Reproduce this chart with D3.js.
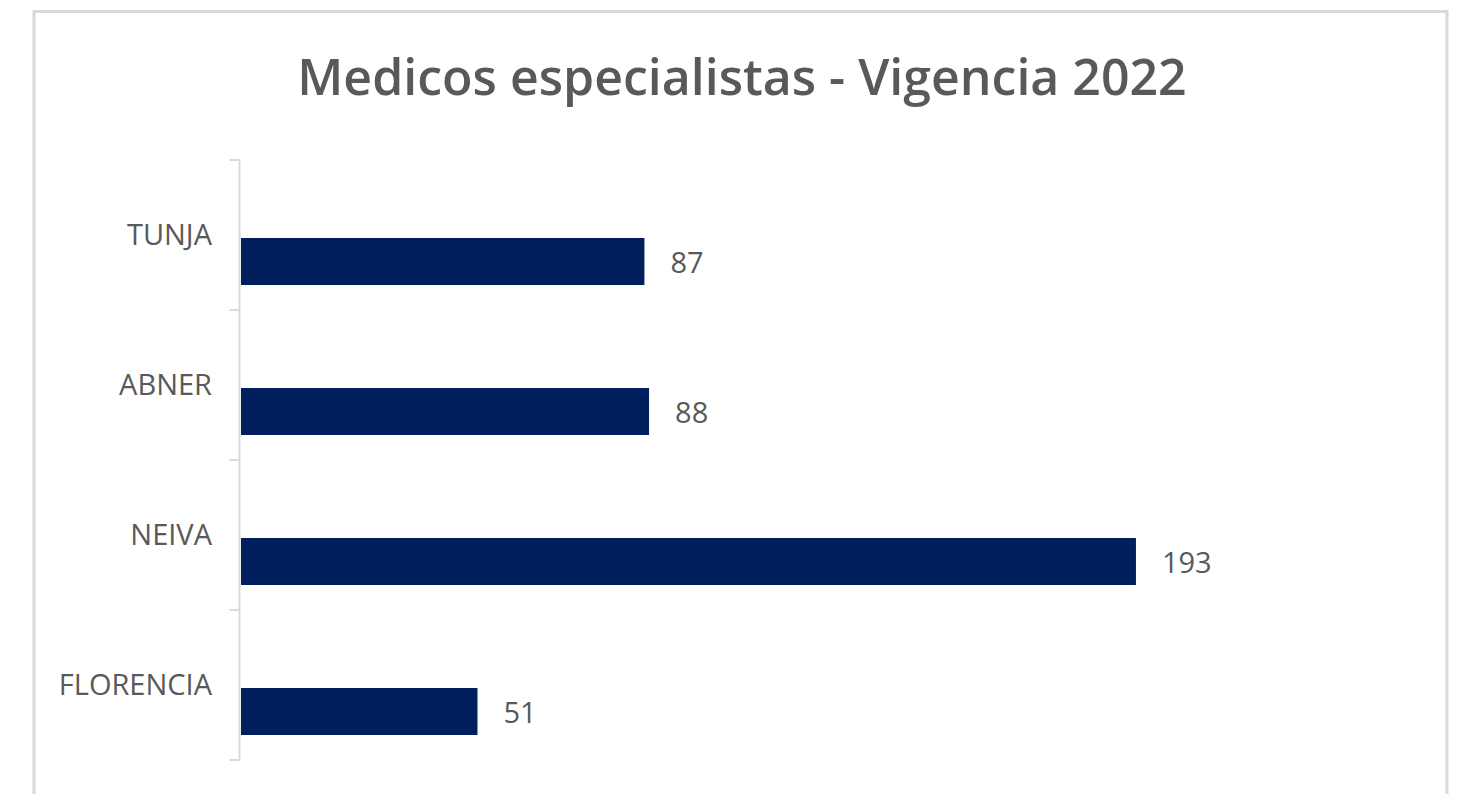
<!DOCTYPE html>
<html>
<head>
<meta charset="utf-8">
<script src="https://cdn.jsdelivr.net/npm/d3@7"></script>
<style>
  body { margin: 0; background: #fff; }
  svg { display: block; font-family: 'Open Sans', sans-serif; }
  .graph-title { font-size: 50px; font-weight: 600; fill: #595959; text-anchor: middle; }
  .cat-label { font-size: 29px; fill: #595959; text-anchor: end; }
  .value-label { font-size: 29px; fill: #595959; }
</style>
</head>
<body>
<svg id="bar-svg"></svg>
<script>
// Chart data
const categories = ['TUNJA', 'ABNER', 'NEIVA', 'FLORENCIA'];
const values = [87, 88, 193, 51];
const title = 'Medicos especialistas - Vigencia 2022';

const width = 1461;
const height = 794;

const svg = d3.select('#bar-svg')
  .attr('width', width)
  .attr('height', height);

// Chart frame
svg.append('rect')
  .attr('x', 34)
  .attr('y', 11.5)
  .attr('width', 1413)
  .attr('height', 800)
  .attr('fill', '#fff')
  .attr('stroke', '#d9d9d9')
  .attr('stroke-width', 3);

svg.append('text')
  .attr('class', 'graph-title')
  .attr('x', 742)
  .attr('y', 95)
  .text(title);

// Scales
const yScale = d3.scaleBand()
  .domain(categories)
  .range([160, 760]);

const xScale = d3.scaleLinear()
  .domain([0, 200])
  .range([241, 241 + 200 * 4.637]);

// Category axis
const axisG = svg.append('g')
  .attr('transform', 'translate(239.5,0)');

axisG.append('line')
  .attr('y1', yScale.range()[0])
  .attr('y2', yScale.range()[1])
  .attr('stroke', '#d9d9d9')
  .attr('stroke-width', 2);

const boundaries = categories.map((c) => yScale(c)).concat([yScale.range()[1]]);
axisG.selectAll('.tick')
  .data(boundaries)
  .enter()
  .append('line')
  .attr('x1', -10)
  .attr('x2', 0)
  .attr('y1', (d) => d)
  .attr('y2', (d) => d)
  .attr('stroke', '#d9d9d9')
  .attr('stroke-width', 2);

svg.selectAll('.cat-label')
  .data(categories)
  .enter()
  .append('text')
  .attr('class', 'cat-label')
  .attr('x', 212)
  .attr('y', (d) => yScale(d) + yScale.bandwidth() / 2 + 10)
  .text((d) => d);

// Bars (Excel draws them below the band centre)
const barOffset = 78;
const barHeight = 47;
const data = categories.map((c, i) => ({ cat: c, value: values[i] }));

svg.append('g')
  .selectAll('rect')
  .data(data)
  .enter()
  .append('rect')
  .attr('fill', '#001f5c')
  .attr('x', xScale(0))
  .attr('y', (d) => yScale(d.cat) + barOffset)
  .attr('width', (d) => xScale(d.value) - xScale(0))
  .attr('height', barHeight);

svg.append('g')
  .selectAll('text')
  .data(data)
  .enter()
  .append('text')
  .attr('class', 'value-label')
  .attr('x', (d) => xScale(d.value) + 26)
  .attr('y', (d) => yScale(d.cat) + barOffset + barHeight / 2 + 11)
  .text((d) => d.value);
</script>
</body>
</html>
